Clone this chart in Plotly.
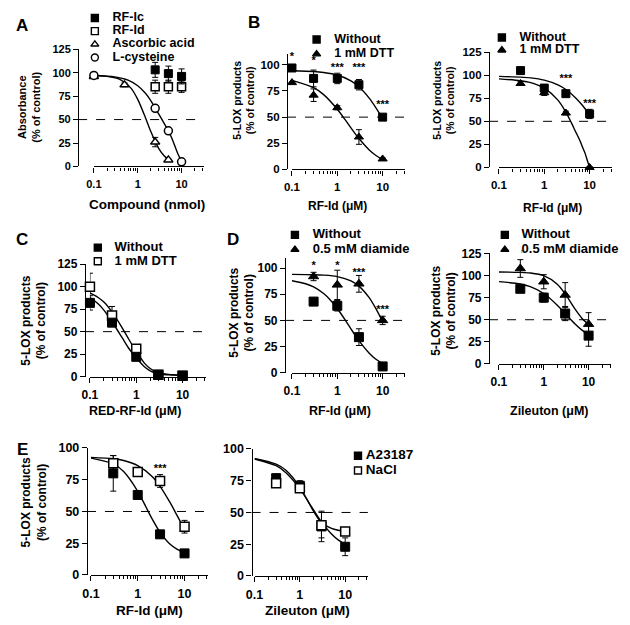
import plotly.graph_objects as go

W, H = 630, 625          # reference picture size
OFF = 8                  # the page body margin shifts the figure by this much
FW, FH = W - OFF, H - OFF
FONT = "Arial, Liberation Sans, sans-serif"

# ---------------- data ----------------
# A  absorbance vs compound (nmol)
a_ic_x = [2.5, 5, 10]
a_ic_y = [103, 99, 96]
a_ic_e = [8, 8, 8]
a_id_x = [2.5, 5, 10]
a_id_y = [85, 85, 85]
a_id_e = [7, 7, 6]
a_asc_x = [0.1, 0.5, 2.5, 5]
a_asc_y = [96, 87, 26, 7]
a_asc_e = [1, 2, 5, 1]
a_cys_x = [0.1, 2.5, 5, 10]
a_cys_y = [97, 62, 38, 5]
a_cys_e = [1, 3, 2, 1]
a_asc_fit_x = [0.1, 0.2, 0.4, 0.7, 1, 1.5, 2, 3, 4, 5]
a_asc_fit_y = [96.8, 96, 92.6, 83.5, 71.5, 52, 37, 19.4, 11.4, 7.3]
a_cys_fit_x = [0.1, 0.3, 0.6, 1, 1.5, 2, 2.5, 3, 4, 5, 6, 7, 8, 10]
a_cys_fit_y = [97, 95.5, 92, 86, 78, 70, 62, 56, 46, 38, 30, 22, 15, 5]

# B left  RF-Id +/- DTT
conc = [0.1, 0.3, 1, 3, 10]
conc4 = [0.3, 1, 3, 10]
b1_wo_y = [97, 87, 87, 81, 50]
b1_wo_e = [2, 8, 5, 5, 2]
b1_dtt_y = [83, 71, 59, 31, 10]
b1_dtt_e = [1, 6, 2, 7, 1]
b1_wo_fit_x = [0.1, 0.3, 0.5, 1, 2, 3, 5, 7, 10]
b1_wo_fit_y = [94.3, 93.6, 92.7, 90.3, 84.7, 79, 68.4, 59.4, 48.8]
b1_dtt_fit_x = [0.1, 0.3, 0.5, 1, 1.5, 2, 3, 5, 7, 10]
b1_dtt_fit_y = [85.2, 78.2, 71.5, 57.5, 47.3, 39.7, 29.5, 18.9, 13.6, 9.4]
b1_star_x = [0.1, 0.3, 1, 3, 10]
b1_star_y = [107, 103, 97, 97, 61]
b1_star_t = ["*", "*", "***", "***", "***"]

# B right
b2_wo_y = [105, 86, 80, 58]
b2_wo_e = [2, 4, 3, 5]
b2_dtt_y = [91, 81, 59, 0]
b2_dtt_e = [2, 3, 2, 1]
b2_wo_fit_x = [0.1, 0.3, 0.5, 1, 2, 3, 5, 7, 10]
b2_wo_fit_y = [98.7, 97.9, 97.1, 94.6, 89.5, 84.5, 75.1, 67.1, 57.2]
b2_dtt_fit_x = [0.1, 0.3, 0.5, 1, 2, 3, 4, 5, 6, 7, 8, 9, 10]
b2_dtt_fit_y = [96, 94, 92, 86, 73, 60, 48, 38, 30, 22, 15, 7, 0]
b2_star_x = [3, 10]
b2_star_y = [96, 68]
b2_star_t = ["***", "***"]

# C  RED-RF-Id +/- DTT
c_wo_y = [82, 60, 22, 2, 1]
c_wo_e = [8, 3, 2, 1, 1]
c_dtt_y = [100, 68, 31, 2, 1]
c_dtt_e = [15, 10, 3, 1, 1]
c_fit_x = [0.1, 0.15, 0.2, 0.3, 0.5, 0.7, 1, 1.5, 2, 3, 5, 10]
c_wo_fit_y = [88, 81, 74, 61, 43, 31, 21, 11, 6.5, 3, 2, 1.5]
c_dtt_fit_y = [93, 88, 83, 72, 54, 41, 28, 15, 9, 4, 2.5, 1.5]

# D left  RF-Id +/- diamide
d1_wo_y = [68, 64, 34, 6]
d1_wo_e = [3, 5, 8, 1]
d1_dia_y = [92, 84, 85, 50]
d1_dia_e = [4, 14, 8, 4]
d1_wo_fit_x = [0.1, 0.2, 0.3, 0.5, 0.7, 1, 1.5, 2, 3, 5, 7, 10]
d1_wo_fit_y = [87.9, 85.1, 82, 75.7, 69.6, 61.4, 50.3, 41.9, 30.6, 18.9, 13.1, 8.7]
d1_dia_fit_x = [0.1, 0.3, 0.5, 1, 2, 3, 5, 7, 10]
d1_dia_fit_y = [94, 93.7, 93.3, 91.9, 87.8, 82.8, 72, 61.7, 48.8]
d1_star_x = [0.3, 1, 3, 10]
d1_star_y = [102, 102, 95, 60]
d1_star_t = ["*", "*", "***", "***"]

# D right  zileuton +/- diamide
d2_wo_y = [85, 75, 57, 32]
d2_wo_e = [3, 5, 8, 12]
d2_dia_y = [108, 93, 78, 45]
d2_dia_e = [10, 8, 14, 13]
d2_fit_x = [0.1, 0.3, 0.5, 1, 2, 3, 5, 7, 10]
d2_wo_fit_y = [93.1, 90.5, 87.4, 79.7, 66.5, 57, 45.2, 38.5, 32.8]
d2_dia_fit_y = [104, 103.6, 102.9, 99.9, 90.2, 79.2, 61.9, 52, 44.5]
d2_star_x = [0.3]
d2_star_y = [124]
d2_star_t = ["*"]

# E left  RF-Id, A23187 vs NaCl
e1_a_y = [80, 63, 32, 17]
e1_a_e = [14, 2, 2, 1]
e1_n_y = [88, 81, 74, 38]
e1_n_e = [6, 2, 5, 5]
e1_a_fit_x = [0.1, 0.3, 0.5, 1, 1.5, 2, 3, 5, 7, 10]
e1_a_fit_y = [92, 87.4, 81.4, 65.9, 53.5, 44.6, 33.6, 24, 20.2, 17.6]
e1_n_fit_x = [0.1, 0.3, 0.5, 1, 2, 3, 5, 7, 10]
e1_n_fit_y = [92.6, 91.5, 90.1, 86.1, 77.8, 69.8, 56.5, 46.5, 35.9]
e1_star_x = [3]
e1_star_y = [83]
e1_star_t = ["***"]

# E right  zileuton, A23187 vs NaCl
e2_a_y = [77, 71, 39, 23]
e2_a_e = [3, 4, 12, 7]
e2_n_y = [73, 69, 40, 35]
e2_n_e = [3, 3, 10, 3]
e2_fit_x = [0.1, 0.3, 0.5, 1, 2, 3, 5, 7, 10]
e2_a_fit_y = [92.1, 86.8, 81.1, 68.7, 52, 42.6, 33, 28.4, 24.9]
e2_n_fit_y = [92.5, 88, 83, 70, 51, 42, 37.5, 36, 35]

# ---------------- styles ----------------
FSQ = dict(symbol="square", color="black", size=8, line=dict(color="black", width=1))
OSQ = dict(symbol="square", color="white", size=8, line=dict(color="black", width=1.5))
FTRI = dict(symbol="triangle-up", color="black", size=8, line=dict(color="black", width=1))
OTRI = dict(symbol="triangle-up", color="white", size=8, line=dict(color="black", width=1.5))
OCIR = dict(symbol="circle", color="white", size=8, line=dict(color="black", width=1.5))


def fx(p):
    return (p - OFF) / FW


def fy(p):
    return 1 - (p - OFF) / FH


# panel geometry in reference pixels: y spine x, x axis start, px per decade, y of zero, y of top, font size
panels = [
    dict(spine=70, x0=86, dec=44.5, y0=163, ytop=43, yr=[0, 125], yt=[0, 25, 50, 75, 100, 125], fs=11),
    dict(spine=282, x0=287, dec=46, y0=166, ytop=48.3, yr=[0, 110], yt=[0, 25, 50, 75, 100], fs=11.5),
    dict(spine=487, x0=497, dec=46, y0=164, ytop=46, yr=[0, 125], yt=[0, 25, 50, 75, 100, 125], fs=11.5),
    dict(spine=77, x0=82, dec=47, y0=378, ytop=263, yr=[0, 125], yt=[0, 25, 50, 75, 100, 125], fs=12),
    dict(spine=280, x0=287, dec=46, y0=374, ytop=256.3, yr=[0, 110], yt=[0, 25, 50, 75, 100], fs=12),
    dict(spine=487, x0=497, dec=45.5, y0=365, ytop=252, yr=[0, 125], yt=[0, 25, 50, 75, 100, 125], fs=12),
    dict(spine=79, x0=83, dec=47.5, y0=581, ytop=451, yr=[0, 100], yt=[0, 25, 50, 75, 100], fs=12.5),
    dict(spine=246, x0=249, dec=46, y0=582, ytop=452, yr=[0, 100], yt=[0, 25, 50, 75, 100], fs=12.5),
]

major = [0.1, 1, 10]
minor = [0.2, 0.3, 0.4, 0.5, 0.6, 0.7, 0.8, 0.9, 2, 3, 4, 5, 6, 7, 8, 9, 20, 30]

fig = go.Figure()
layout = {}
shapes = []
annotations = []


def nm(kind, n):
    return kind + ("" if n == 1 else str(n))


for i, p in enumerate(panels, start=1):
    x1 = p["x0"] + 2.5 * p["dec"]
    tf = dict(family=FONT, size=p["fs"], color="black", weight="bold")
    layout[nm("xaxis", i)] = dict(
        domain=[fx(p["x0"]), fx(x1)], type="log", range=[-1, 1.5], anchor=nm("y", i),
        showline=True, linecolor="black", linewidth=1.3, ticks="outside", ticklen=5,
        tickwidth=1.3, tickcolor="black", tickvals=major, ticktext=["0.1", "1", "10"],
        minor=dict(tickvals=minor, ticks="outside", ticklen=3, tickwidth=1, tickcolor="black"),
        showgrid=False, zeroline=False, ticklabelstandoff=2, tickfont=tf,
    )
    layout[nm("yaxis", i)] = dict(
        domain=[fy(p["y0"]), fy(p["ytop"])], range=p["yr"], anchor="free",
        position=fx(p["spine"]), showline=True, linecolor="black", linewidth=1.3,
        ticks="outside", ticklen=5, tickwidth=1.3, tickcolor="black", tickvals=p["yt"],
        showgrid=False, zeroline=False, tickfont=tf,
    )
    shapes.append(dict(type="line", xref="paper", yref=nm("y", i), x0=fx(p["spine"]), x1=fx(x1),
                       y0=50, y1=50, line=dict(color="black", width=1, dash="dash"), layer="below"))


def curve(n, x, y):
    fig.add_trace(go.Scatter(x=x, y=y, mode="lines", xaxis=nm("x", n), yaxis=nm("y", n),
                             line=dict(color="black", width=1.4, shape="spline", smoothing=0.8),
                             showlegend=False, hoverinfo="skip", cliponaxis=False))


def points(n, x, y, err, style, size=8):
    fig.add_trace(go.Scatter(x=x, y=y, mode="markers", xaxis=nm("x", n), yaxis=nm("y", n),
                             marker={**style, "size": size}, showlegend=False, cliponaxis=False,
                             error_y=dict(type="data", array=err, color="black", thickness=1, width=3)))


def stars(n, x, y, t):
    fig.add_trace(go.Scatter(x=x, y=y, text=t, mode="text", xaxis=nm("x", n), yaxis=nm("y", n),
                             textfont=dict(family=FONT, size=11, color="black", weight="bold"),
                             showlegend=False, cliponaxis=False))


# A
curve(1, a_asc_fit_x, a_asc_fit_y)
curve(1, a_cys_fit_x, a_cys_fit_y)
points(1, a_asc_x, a_asc_y, a_asc_e, OTRI)
points(1, a_cys_x, a_cys_y, a_cys_e, OCIR)
points(1, a_id_x, a_id_y, a_id_e, OSQ)
points(1, a_ic_x, a_ic_y, a_ic_e, FSQ)
# B left
curve(2, b1_wo_fit_x, b1_wo_fit_y)
curve(2, b1_dtt_fit_x, b1_dtt_fit_y)
points(2, conc, b1_dtt_y, b1_dtt_e, FTRI)
points(2, conc, b1_wo_y, b1_wo_e, FSQ)
stars(2, b1_star_x, b1_star_y, b1_star_t)
# B right
curve(3, b2_wo_fit_x, b2_wo_fit_y)
curve(3, b2_dtt_fit_x, b2_dtt_fit_y)
points(3, conc4, b2_wo_y, b2_wo_e, FSQ)
points(3, conc4, b2_dtt_y, b2_dtt_e, FTRI)
stars(3, b2_star_x, b2_star_y, b2_star_t)
# C
curve(4, c_fit_x, c_wo_fit_y)
curve(4, c_fit_x, c_dtt_fit_y)
points(4, conc, c_dtt_y, c_dtt_e, OSQ, 9)
points(4, conc, c_wo_y, c_wo_e, FSQ, 9)
# D left
curve(5, d1_wo_fit_x, d1_wo_fit_y)
curve(5, d1_dia_fit_x, d1_dia_fit_y)
points(5, conc4, d1_wo_y, d1_wo_e, FSQ, 9)
points(5, conc4, d1_dia_y, d1_dia_e, FTRI, 9)
stars(5, d1_star_x, d1_star_y, d1_star_t)
# D right
curve(6, d2_fit_x, d2_wo_fit_y)
curve(6, d2_fit_x, d2_dia_fit_y)
points(6, conc4, d2_wo_y, d2_wo_e, FSQ, 9)
points(6, conc4, d2_dia_y, d2_dia_e, FTRI, 9)
stars(6, d2_star_x, d2_star_y, d2_star_t)
# E left
curve(7, e1_a_fit_x, e1_a_fit_y)
curve(7, e1_n_fit_x, e1_n_fit_y)
points(7, conc4, e1_a_y, e1_a_e, FSQ, 9)
points(7, conc4, e1_n_y, e1_n_e, OSQ, 9)
stars(7, e1_star_x, e1_star_y, e1_star_t)
# E right
curve(8, e2_fit_x, e2_a_fit_y)
curve(8, e2_fit_x, e2_n_fit_y)
points(8, conc4, e2_a_y, e2_a_e, FSQ, 9)
points(8, conc4, e2_n_y, e2_n_e, OSQ, 9)

# ---------------- legends (small hidden axes) ----------------
legends = [
    (["RF-Ic", "RF-Id", "Ascorbic acid", "L-cysteine"], [FSQ, OSQ, OTRI, OCIR], 87, 105, [11, 24.5, 38, 51.5], 12.5),
    (["Without", "1 mM DTT"], [FSQ, FTRI], 312, 330, [33, 48], 12.5),
    (["Without", "1 mM DTT"], [FSQ, FTRI], 500, 518, [31, 44], 12.5),
    (["Without", "1 mM DTT"], [FSQ, OSQ], 90, 107, [246, 260], 13),
    (["Without", "0.5 mM diamide"], [FSQ, FTRI], 290, 308, [233, 248], 13),
    (["Without", "0.5 mM diamide"], [FSQ, FTRI], 503, 520, [233, 248], 13),
    (["A23187", "NaCl"], [FSQ, OSQ], 354, 362, [459, 474], 13.5),
]
for j, (labels, styles, mx, tx, rows, lfs) in enumerate(legends):
    n = 9 + j
    sp = rows[1] - rows[0]
    top, bot = max(OFF, rows[0] - sp / 2), rows[-1] + sp / 2
    layout[nm("xaxis", n)] = dict(domain=[fx(mx), fx(tx)], range=[0, 1], visible=False, anchor=nm("y", n))
    layout[nm("yaxis", n)] = dict(domain=[fy(bot), fy(top)], type="category",
                                  categoryorder="array", categoryarray=labels,
                                  range=[(bot - rows[0]) / sp, (top - rows[0]) / sp],
                                  visible=False, anchor=nm("x", n))
    fig.add_trace(go.Scatter(
        x=[0] * len(labels), y=labels, mode="markers", xaxis=nm("x", n), yaxis=nm("y", n),
        marker=dict(symbol=[s["symbol"] for s in styles], color=[s["color"] for s in styles],
                    size=7, line=dict(color="black", width=1.4)),
        showlegend=False, cliponaxis=False, hoverinfo="skip"))
    fig.add_trace(go.Scatter(
        x=[1] * len(labels), y=labels, text=labels, mode="text", textposition="middle right",
        xaxis=nm("x", n), yaxis=nm("y", n), showlegend=False, cliponaxis=False, hoverinfo="skip",
        textfont=dict(family=FONT, size=lfs, color="black", weight="bold")))

# ---------------- titles ----------------
ylab = "5-LOX products<br>(% of control)"
x_titles = [
    ("Compound (nmol)", 140, 202, 13.5), ("RF-Id (μM)", 333, 203, 12), ("RF-Id (μM)", 551, 205, 12),
    ("RED-RF-Id (μM)", 128, 413, 12.5), ("RF-Id (μM)", 336, 413, 12.5), ("Zileuton (μM)", 548, 413, 12.5),
    ("RF-Id (μM)", 142, 617, 13.5), ("Zileuton (μM)", 303, 617, 13.5),
]
y_titles = [
    ("Absorbance<br>(% of control)", 20, 102, 11), (ylab, 238, 95, 10.5), (ylab, 441, 95, 10.5),
    (ylab, 25, 321, 12), (ylab, 236, 313, 12), (ylab, 441, 311, 12), (ylab, 25, 507, 12),
]
letters = [("A", 13, 19), ("B", 248, 16), ("C", 13, 238), ("D", 227, 238), ("E", 14, 453)]

for t, x, y, s in x_titles:
    annotations.append(dict(text=t, x=fx(x), y=fy(y), xref="paper", yref="paper",
                            showarrow=False, xanchor="center", yanchor="middle",
                            font=dict(family=FONT, size=s, color="black", weight="bold")))
for t, x, y, s in y_titles:
    annotations.append(dict(text=t, x=fx(x), y=fy(y), xref="paper", yref="paper",
                            showarrow=False, xanchor="center", yanchor="middle", textangle=-90,
                            font=dict(family=FONT, size=s, color="black", weight="bold")))
for t, x, y in letters:
    annotations.append(dict(text=t, x=fx(x), y=fy(y), xref="paper", yref="paper",
                            showarrow=False, xanchor="center", yanchor="middle",
                            font=dict(family=FONT, size=17, color="black", weight="bold")))

fig.update_layout(width=FW, height=FH, autosize=False, margin=dict(l=0, r=0, t=0, b=0),
                  paper_bgcolor="white", plot_bgcolor="white", showlegend=False,
                  shapes=shapes, annotations=annotations, **layout)

fig.write_html("out.html")
